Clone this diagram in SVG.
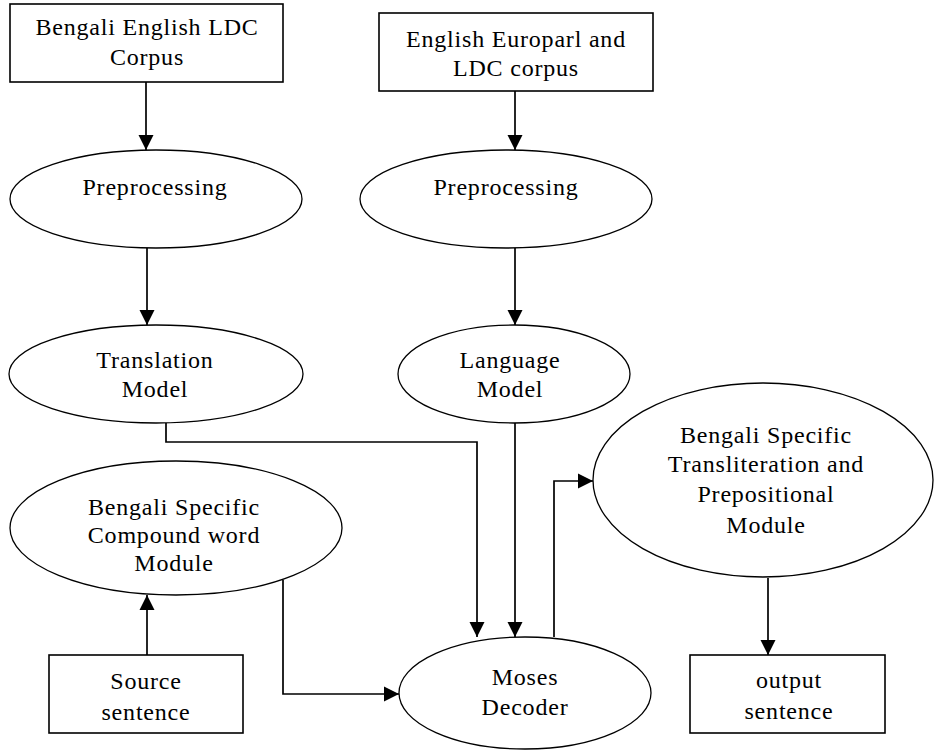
<svg xmlns="http://www.w3.org/2000/svg" width="935" height="751" viewBox="0 0 935 751">
  <style>
    .box { fill: #fff; stroke: #000; stroke-width: 1.6; }
    .oval { fill: #fff; stroke: #000; stroke-width: 1.3; }
    .lbl { font-family: "Liberation Serif", "Times New Roman", serif; font-size: 24px; letter-spacing: 0.8px; fill: #000; text-anchor: middle; }
    .edge { fill: none; stroke: #000; stroke-width: 1.7; marker-end: url(#head); }
  </style>
  <defs>
    <marker id="head" markerUnits="userSpaceOnUse" markerWidth="16" markerHeight="16" viewBox="0 0 16 16" refX="15" refY="8" orient="auto">
      <path d="M0,0.5 L15,8 L0,15.5 z" fill="#000"/>
    </marker>
  </defs>
  <rect width="935" height="751" fill="#fff"/>

  <g id="connectors">
    <path class="edge" d="M146,82 V150"/>
    <path class="edge" d="M515,91 V150"/>
    <path class="edge" d="M147,248 V325"/>
    <path class="edge" d="M515,248 V325"/>
    <path class="edge" d="M166,423 V442 H477 V637"/>
    <path class="edge" d="M515,423 V637"/>
    <path class="edge" d="M554,637 V481 H593"/>
    <path class="edge" d="M147,655 V595"/>
    <path class="edge" d="M283,580 V694 H399"/>
    <path class="edge" d="M768,578 V655"/>
  </g>

  <g id="bengali-english-corpus">
    <rect class="box" x="10" y="4" width="273" height="78"/>
    <text class="lbl" x="147" y="35">Bengali English LDC</text>
    <text class="lbl" x="147" y="65">Corpus</text>
  </g>

  <g id="english-europarl-corpus">
    <rect class="box" x="379" y="13" width="274" height="78"/>
    <text class="lbl" x="516" y="47">English Europarl and</text>
    <text class="lbl" x="516" y="76">LDC corpus</text>
  </g>

  <g id="preprocessing-left">
    <ellipse class="oval" cx="156" cy="199" rx="146" ry="49"/>
    <text class="lbl" x="155" y="195">Preprocessing</text>
  </g>

  <g id="preprocessing-right">
    <ellipse class="oval" cx="506" cy="199" rx="146" ry="49"/>
    <text class="lbl" x="506" y="195">Preprocessing</text>
  </g>

  <g id="translation-model">
    <ellipse class="oval" cx="156" cy="374" rx="147" ry="49"/>
    <text class="lbl" x="155" y="368">Translation</text>
    <text class="lbl" x="155" y="397">Model</text>
  </g>

  <g id="language-model">
    <ellipse class="oval" cx="514" cy="374" rx="116" ry="49"/>
    <text class="lbl" x="510" y="368">Language</text>
    <text class="lbl" x="510" y="397">Model</text>
  </g>

  <g id="compound-word-module">
    <ellipse class="oval" cx="176" cy="528" rx="166" ry="67"/>
    <text class="lbl" x="174" y="515">Bengali Specific</text>
    <text class="lbl" x="174" y="543">Compound word</text>
    <text class="lbl" x="174" y="571">Module</text>
  </g>

  <g id="transliteration-module">
    <ellipse class="oval" cx="763" cy="480" rx="170" ry="97"/>
    <text class="lbl" x="766" y="443">Bengali Specific</text>
    <text class="lbl" x="766" y="472">Transliteration and</text>
    <text class="lbl" x="766" y="502">Prepositional</text>
    <text class="lbl" x="766" y="533">Module</text>
  </g>

  <g id="source-sentence">
    <rect class="box" x="49" y="655" width="194" height="78"/>
    <text class="lbl" x="146" y="689">Source</text>
    <text class="lbl" x="146" y="720">sentence</text>
  </g>

  <g id="moses-decoder">
    <ellipse class="oval" cx="525" cy="693" rx="126" ry="56"/>
    <text class="lbl" x="525" y="685">Moses</text>
    <text class="lbl" x="525" y="715">Decoder</text>
  </g>

  <g id="output-sentence">
    <rect class="box" x="690" y="655" width="195" height="78"/>
    <text class="lbl" x="789" y="688">output</text>
    <text class="lbl" x="789" y="719">sentence</text>
  </g>
</svg>
